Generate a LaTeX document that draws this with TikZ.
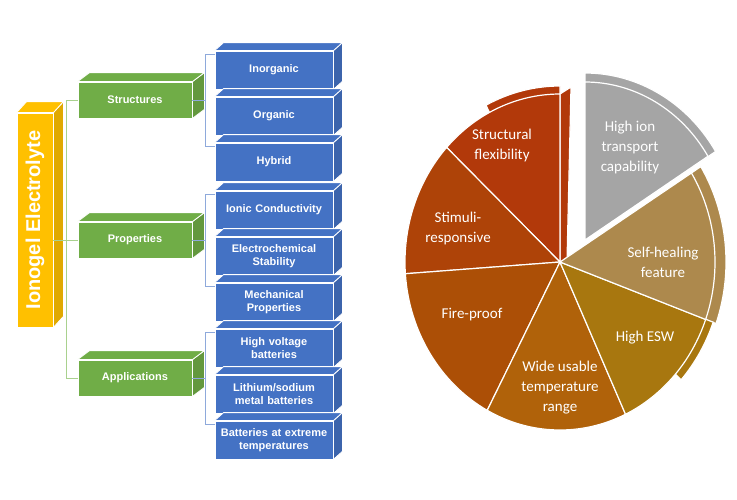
\documentclass[tikz,border=0pt]{standalone}
\usepackage{fontspec}
\setmainfont{Carlito}
\newfontfamily\boxfont{Liberation Sans}
\usetikzlibrary{positioning}

\definecolor{ionyellow}{HTML}{FFC000}
\definecolor{iongreen}{HTML}{70AD47}
\definecolor{ionblue}{HTML}{4472C4}
\definecolor{bracketblue}{HTML}{8EA9DB}
\definecolor{bracketgreen}{HTML}{A9D18E}
\definecolor{pieflex}{HTML}{B2390A}
\definecolor{piestim}{HTML}{AE4308}
\definecolor{piefire}{HTML}{AC4F06}
\definecolor{piewide}{HTML}{B0620A}
\definecolor{pieesw}{HTML}{A8770F}
\definecolor{pieheal}{HTML}{AD894D}
\definecolor{piegray}{HTML}{A5A5A5}

% top and side faces of a block node
\newcommand{\blockfaces}[4]{%
  \filldraw[fill=#2!88!black, draw=white, line width=.8pt] (#1.north east) -- ([shift={(#3,-#4)}]#1.north east) -- ([shift={(#3,-#4)}]#1.south east) -- (#1.south east) -- cycle;
  \filldraw[fill=#2, draw=white, line width=.8pt] (#1.north west) -- ([shift={(#3,-#4)}]#1.north west) -- ([shift={(#3,-#4)}]#1.north east) -- (#1.north east) -- cycle;}

% one elliptic slice of the pie
\newcommand{\pieslice}[5]{%
  \filldraw[fill=#5, draw=white, line width=1.2pt] (0,0) -- (#1:#3 and #4) arc[start angle=#1, end angle=#2, x radius=#3, y radius=#4] -- cycle;}

\begin{document}
\begin{tikzpicture}[x=1pt, y=-1pt,
  block/.style={draw=white, line width=.8pt, inner sep=1pt, align=center, text=white, font=\boxfont\bfseries\fontsize{11}{12.5}\selectfont},
  bluebox/.style={block, fill=ionblue, minimum width=118, minimum height=38, text width=116},
  greenbox/.style={block, fill=iongreen, minimum width=114, minimum height=36},
  ionbar/.style={block, fill=ionyellow, minimum width=36, minimum height=214, font=\boxfont\bfseries\fontsize{20}{22}\selectfont},
  bluebracket/.style={draw=bracketblue, line width=.7pt},
  greenbracket/.style={draw=bracketgreen, line width=.7pt},
  pietext/.style={align=center, text=white, font=\fontsize{15}{20}\selectfont}]
\useasboundingbox (0,0) rectangle (737,499);

% left: ionogel electrolyte tree
\node[ionbar] (ie) at (35,220) {\rotatebox{90}{Ionogel Electrolyte}};
\blockfaces{ie}{ionyellow}{10}{11}

\node[greenbox] (struct) at (135,100) {Structures};
\node[greenbox] (props) at (135,240) {Properties};
\node[greenbox] (appl) at (135,378) {Applications};
\foreach \n in {struct,props,appl} \blockfaces{\n}{iongreen}{12}{9};

\node[bluebox] (inorg) at (274,70) {Inorganic};
\node[bluebox] (org) at (274,116) {Organic};
\node[bluebox] (hyb) at (274,162) {Hybrid};
\node[bluebox] (ionic) at (274,210) {Ionic Conductivity};
\node[bluebox] (echem) at (274,256) {Electrochemical\\Stability};
\node[bluebox] (mech) at (274,302) {Mechanical\\Properties};
\node[bluebox] (hv) at (274,348) {High voltage\\batteries};
\node[bluebox] (lis) at (274,394) {Lithium/sodium\\metal batteries};
\node[bluebox] (ext) at (274,440) {Batteries at extreme\\temperatures};
\foreach \n in {inorg,org,hyb,ionic,echem,mech,hv,lis,ext} \blockfaces{\n}{ionblue}{9}{8};

% green bracket
\coordinate (gb) at (66,0);
\draw[greenbracket] (struct.west) -- (struct.west -| gb) -- (appl.west -| gb) -- (appl.west);
\draw[greenbracket] (ie.east |- props) -- (props.west);

% blue brackets
\coordinate (sbt) at (205,54);
\coordinate (sbb) at (205,146);
\coordinate (pbt) at (205,194);
\coordinate (pbb) at (205,286);
\coordinate (abt) at (205,332);
\coordinate (abb) at (205,424);
\draw[bluebracket] (inorg.west |- sbt) -- (sbt) -- (sbb) -- (hyb.west |- sbb);
\draw[bluebracket] (ionic.west |- pbt) -- (pbt) -- (pbb) -- (mech.west |- pbb);
\draw[bluebracket] (hv.west |- abt) -- (abt) -- (abb) -- (ext.west |- abb);
\draw[bluebracket] (struct.east) -- (struct.east -| sbt);
\draw[bluebracket] (props.east) -- (props.east -| pbt);
\draw[bluebracket] (appl.east) -- (appl.east -| abt);

% right: pie of features
\begin{scope}[shift={(560,262)}, yscale=-1]
  % rims
  \pieslice{-20}{32}{166}{180}{pieheal}
  \pieslice{318}{340}{163}{176}{pieesw}
  \pieslice{90}{117}{163}{176}{pieflex}
  \filldraw[fill=pieflex, draw=white, line width=1.2pt] (0,0) -- (0,168) -- (11,175) -- (7,0) -- cycle;
  % faces
  \pieslice{90}{137}{155}{168}{pieflex}
  \pieslice{137}{184}{155}{168}{piestim}
  \pieslice{184}{242}{155}{168}{piefire}
  \pieslice{242}{295}{155}{168}{piewide}
  \pieslice{295}{340}{155}{168}{pieesw}
  \pieslice{-20}{32}{155}{168}{pieheal}
  \begin{scope}[shift={(25,22)}]
    \pieslice{32}{90}{154}{167}{piegray}
    \pieslice{32}{90}{145}{158}{piegray}
  \end{scope}
\end{scope}

\node[pietext] (fl) at (502,145) {Structural\\flexibility};
\node[pietext] (hi) at (630,147) {High ion\\transport\\capability};
\node[pietext] (sr) at (458,228) {Stimuli-\\responsive};
\node[pietext] (sh) at (663,262) {Self-healing\\feature};
\node[pietext] (fp) at (472,315) {Fire-proof};
\node[pietext] (wu) at (560,388) {Wide usable\\temperature\\range};
\node[pietext] (he) at (645,338) {High ESW};
\end{tikzpicture}
\end{document}
